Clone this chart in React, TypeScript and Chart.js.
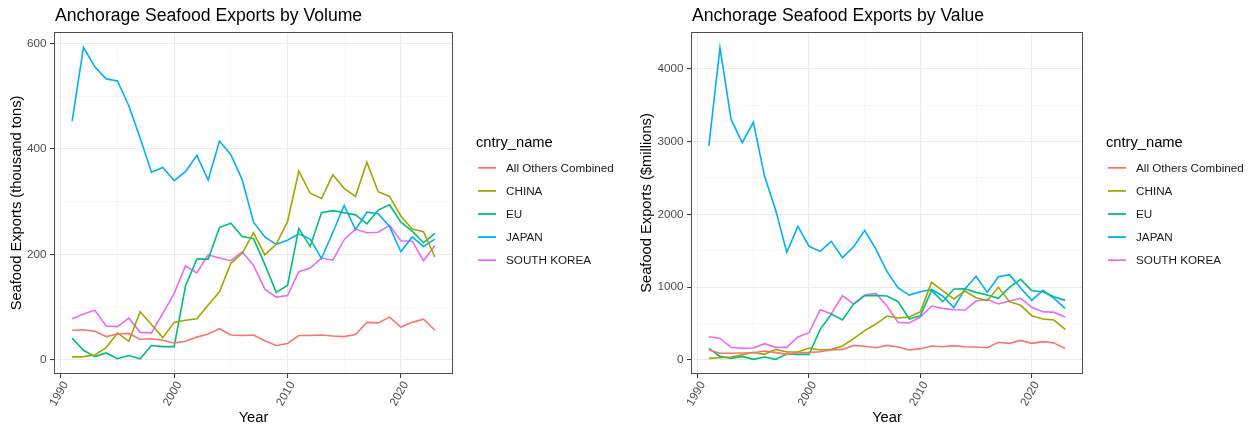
import React, { useEffect, useRef } from 'react';
import { Chart, registerables } from 'chart.js';

Chart.register(...registerables);

const years = [1991, 1992, 1993, 1994, 1995, 1996, 1997, 1998, 1999, 2000, 2001, 2002, 2003, 2004, 2005, 2006, 2007, 2008, 2009, 2010, 2011, 2012, 2013, 2014, 2015, 2016, 2017, 2018, 2019, 2020, 2021, 2022, 2023];

const countries = ['All Others Combined', 'CHINA', 'EU', 'JAPAN', 'SOUTH KOREA'];
const colors = ['#F8766D', '#A3A500', '#00BF7D', '#00B0F6', '#E76BF3'];

// Volume (thousand tons)
const volOthers = [56, 57, 54, 44, 49, 50, 39, 40, 37, 32, 35, 43, 49, 59, 47, 46, 47, 36, 27, 31, 46, 46, 47, 45, 44, 48, 71, 70, 81, 62, 71, 77, 56];
const volChina = [5, 6, 9, 23, 51, 35, 91, 67, 42, 71, 75, 78, 104, 129, 183, 202, 241, 199, 219, 262, 358, 316, 306, 351, 325, 310, 375, 319, 310, 273, 248, 243, 195];
const volEU = [41, 18, 6, 13, 2, 8, 2, 27, 25, 25, 140, 191, 191, 251, 259, 234, 230, 181, 128, 141, 249, 215, 279, 283, 279, 275, 258, 284, 294, 261, 244, 222, 240];
const volJapan = [453, 593, 556, 533, 529, 482, 421, 356, 365, 340, 357, 388, 341, 415, 389, 342, 261, 233, 219, 227, 239, 229, 192, 242, 293, 247, 280, 277, 253, 205, 233, 215, 229];
const volKorea = [78, 87, 94, 64, 63, 79, 52, 51, 88, 126, 178, 165, 199, 193, 188, 205, 179, 134, 119, 122, 167, 174, 193, 189, 228, 248, 241, 242, 255, 226, 225, 188, 217];

// Value ($ millions)
const valOthers = [137, 92, 92, 96, 100, 124, 105, 78, 100, 105, 114, 137, 146, 201, 188, 169, 201, 178, 137, 156, 192, 183, 197, 183, 178, 169, 243, 229, 270, 229, 252, 233, 160];
const valChina = [23, 32, 41, 73, 105, 78, 146, 110, 110, 165, 137, 146, 192, 293, 403, 494, 604, 577, 590, 664, 1066, 952, 838, 947, 856, 815, 998, 801, 751, 609, 563, 549, 421];
const valEU = [160, 50, 23, 50, 9, 41, 9, 82, 78, 78, 421, 632, 549, 769, 883, 888, 879, 801, 563, 609, 957, 801, 975, 979, 929, 892, 847, 998, 1108, 952, 938, 870, 819];
const valJapan = [2938, 4288, 3304, 2984, 3263, 2526, 2059, 1478, 1835, 1561, 1492, 1629, 1405, 1556, 1780, 1524, 1213, 989, 892, 938, 970, 879, 719, 975, 1149, 929, 1144, 1172, 989, 819, 957, 847, 709];
const valKorea = [320, 297, 174, 160, 165, 224, 174, 174, 316, 375, 691, 636, 883, 769, 892, 915, 741, 517, 508, 590, 741, 709, 691, 686, 810, 833, 769, 810, 847, 723, 664, 654, 590];

const xTicks = [1990, 1995, 2000, 2005, 2010, 2015, 2020];
const xMajor = [1990, 2000, 2010, 2020];
const volTicks = [0, 100, 200, 300, 400, 500, 600];
const volMajor = [0, 200, 400, 600];
const valTicks = [0, 500, 1000, 1500, 2000, 2500, 3000, 3500, 4000, 4500];
const valMajor = [0, 1000, 2000, 3000, 4000];

const FONT = '"Liberation Sans", Arial, sans-serif';

type PanelSpec = {
  title: string;
  yTitle: string;
  series: number[][];
  yMin: number;
  yMax: number;
  yTicks: number[];
  yMajor: number[];
  plotLeft: number;
};

function makeConfig(p: PanelSpec, width: number): any {
  const plotRight = 453;
  const plotTop = 32;
  const plotBottom = 374;
  const height = 430;

  const decor = {
    id: 'decor',
    afterDatasetsDraw(chart: any) {
      const { ctx, chartArea: a } = chart;
      ctx.save();
      ctx.strokeStyle = '#4d4d4d';
      ctx.lineWidth = 1;
      ctx.strokeRect(Math.round(a.left) + 0.5, Math.round(a.top) + 0.5, Math.round(a.right - a.left) - 1, Math.round(a.bottom - a.top) - 1);
      ctx.restore();
    },
    afterDraw(chart: any) {
      const { ctx, chartArea: a } = chart;
      ctx.save();
      ctx.fillStyle = '#000';
      ctx.textBaseline = 'alphabetic';
      ctx.textAlign = 'left';
      ctx.font = `17.6px ${FONT}`;
      ctx.fillText(p.title, a.left + 1, 21);

      const lx = a.right + 23;
      ctx.textBaseline = 'middle';
      ctx.font = `14.7px ${FONT}`;
      ctx.fillText('cntry_name', lx, 143);
      ctx.font = `11.7px ${FONT}`;
      countries.forEach((c, i) => {
        const y = 167.8 + i * 23.1;
        ctx.strokeStyle = colors[i];
        ctx.lineWidth = 1.8;
        ctx.beginPath();
        ctx.moveTo(lx + 2, y);
        ctx.lineTo(lx + 20, y);
        ctx.stroke();
        ctx.fillStyle = '#1a1a1a';
        ctx.fillText(c, lx + 30, y + 0.5);
      });
      ctx.restore();
    },
  };

  return {
    type: 'line',
    data: {
      datasets: countries.map((c, i) => ({
        label: c,
        data: years.map((yr, j) => ({ x: yr, y: p.series[i][j] })),
        borderColor: colors[i],
        backgroundColor: colors[i],
        borderWidth: 1.6,
        pointRadius: 0,
        tension: 0,
        fill: false,
      })),
    },
    options: {
      responsive: false,
      animation: false,
      layout: { padding: { left: 0, top: plotTop, right: width - plotRight, bottom: 0 } },
      plugins: { legend: { display: false }, title: { display: false }, tooltip: { enabled: false } },
      scales: {
        x: {
          type: 'linear',
          min: 1989.4,
          max: 2024.6,
          afterBuildTicks: (s: any) => {
            s.ticks = xTicks.map((v) => ({ value: v }));
          },
          afterFit: (s: any) => {
            s.height = height - plotBottom;
          },
          ticks: {
            autoSkip: false,
            minRotation: 60,
            maxRotation: 60,
            padding: 1,
            labelOffset: 5,
            color: '#4D4D4D',
            font: { family: FONT, size: 11.7 },
            callback: (v: any) => (xMajor.includes(Number(v)) ? String(v) : ''),
          },
          grid: {
            color: (ctx: any) => (xMajor.includes(ctx.tick?.value) ? '#EBEBEB' : '#F4F4F4'),
            lineWidth: (ctx: any) => (xMajor.includes(ctx.tick?.value) ? 1.1 : 0.6),
            tickColor: (ctx: any) => (xMajor.includes(ctx.tick?.value) ? '#333333' : 'rgba(0,0,0,0)'),
            tickLength: 4,
            tickWidth: 1,
          },
          border: { display: false },
          title: {
            display: true,
            text: 'Year',
            color: '#000',
            font: { family: FONT, size: 14.7 },
            padding: { top: 0, bottom: 3 },
          },
        },
        y: {
          type: 'linear',
          min: p.yMin,
          max: p.yMax,
          afterBuildTicks: (s: any) => {
            s.ticks = p.yTicks.map((v) => ({ value: v }));
          },
          afterFit: (s: any) => {
            s.width = p.plotLeft;
          },
          ticks: {
            autoSkip: false,
            padding: 3.5,
            color: '#4D4D4D',
            font: { family: FONT, size: 11.7 },
            callback: (v: any) => (p.yMajor.includes(Number(v)) ? String(v) : ''),
          },
          grid: {
            color: (ctx: any) => (p.yMajor.includes(ctx.tick?.value) ? '#EBEBEB' : '#F4F4F4'),
            lineWidth: (ctx: any) => (p.yMajor.includes(ctx.tick?.value) ? 1.1 : 0.6),
            tickColor: (ctx: any) => (p.yMajor.includes(ctx.tick?.value) ? '#333333' : 'rgba(0,0,0,0)'),
            tickLength: 4,
            tickWidth: 1,
          },
          border: { display: false },
          title: {
            display: true,
            text: p.yTitle,
            color: '#000',
            font: { family: FONT, size: 14.7 },
            padding: { top: 8, bottom: 0 },
          },
        },
      },
    },
    plugins: [decor],
  };
}

function Panel({ spec, left }: { spec: PanelSpec; left: number }) {
  const ref = useRef<HTMLCanvasElement | null>(null);
  const width = 623;
  useEffect(() => {
    if (!ref.current) return;
    const chart = new Chart(ref.current, makeConfig(spec, width));
    return () => chart.destroy();
  }, []);
  return (
    <canvas
      ref={ref}
      width={width}
      height={430}
      style={{ position: 'absolute', left, top: 0, width, height: 430 }}
    />
  );
}

const volumeSpec: PanelSpec = {
  title: 'Anchorage Seafood Exports by Volume',
  yTitle: 'Seafood Exports (thousand tons)',
  series: [volOthers, volChina, volEU, volJapan, volKorea],
  yMin: -27,
  yMax: 622,
  yTicks: volTicks,
  yMajor: volMajor,
  plotLeft: 54,
};

const valueSpec: PanelSpec = {
  title: 'Anchorage Seafood Exports by Value',
  yTitle: 'Seafood Exports ($millions)',
  series: [valOthers, valChina, valEU, valJapan, valKorea],
  yMin: -192,
  yMax: 4504,
  yTicks: valTicks,
  yMajor: valMajor,
  plotLeft: 61,
};

export default function App() {
  return (
    <div style={{ position: 'fixed', left: 0, top: 0, width: 1253, height: 430, background: '#fff' }}>
      <Panel spec={volumeSpec} left={0} />
      <Panel spec={valueSpec} left={630} />
    </div>
  );
}
